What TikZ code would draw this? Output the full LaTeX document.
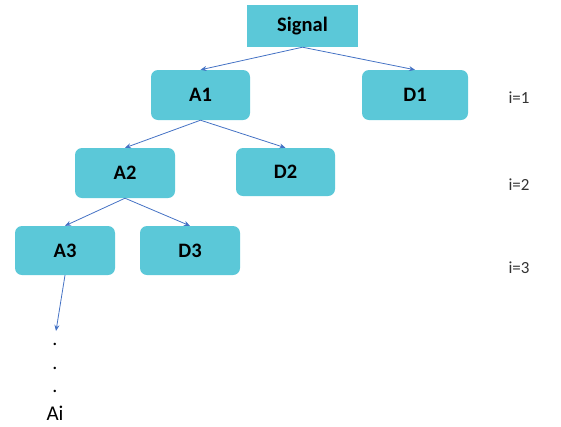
\documentclass[tikz,border=0pt]{standalone}
\usepackage{fontspec}
\setmainfont{Carlito}
\usetikzlibrary{arrows.meta}
\definecolor{boxc}{RGB}{91,200,216}
\definecolor{arrc}{RGB}{68,114,196}
\begin{document}
\begin{tikzpicture}[x=1pt,y=-1pt,
  box/.style={fill=boxc,draw=none,rounded corners=7pt,inner sep=0pt,font=\fontsize{20.5}{23}\selectfont\bfseries},
  conn/.style={draw=arrc,line width=0.8pt,-{Stealth[length=6pt,width=5pt]}},
  lvl/.style={font=\fontsize{17}{20}\selectfont,text=black!80},
  dotn/.style={font=\fontsize{20}{22}\selectfont,inner sep=0pt}]
\useasboundingbox (0,0) rectangle (561,426);
\node[box,rounded corners=0pt,minimum width=111pt,minimum height=42pt] (sig) at (302.5,26) {Signal};
\node[box,minimum width=99pt,minimum height=50pt] (a1) at (200.5,95) {A1};
\node[box,minimum width=106pt,minimum height=50pt] (d1) at (415,95) {D1};
\node[box,minimum width=100pt,minimum height=50pt] (a2) at (125,173) {A2};
\node[box,minimum width=99pt,minimum height=48pt] (d2) at (285.5,172) {D2};
\node[box,minimum width=100pt,minimum height=49pt] (a3) at (65,250.5) {A3};
\node[box,minimum width=100pt,minimum height=49pt] (d3) at (190,250.5) {D3};
\coordinate (end) at (56,331);
\draw[conn] (sig.south) -- (a1.north);
\draw[conn] (sig.south) -- (d1.north);
\draw[conn] (a1.south) -- (a2.north);
\draw[conn] (a1.south) -- (d2.north);
\draw[conn] (a2.south) -- (a3.north);
\draw[conn] (a2.south) -- (d3.north);
\draw[conn] (a3.south) -- (end);
\node[dotn] (p1) at (55,344) {.};
\node[dotn] (p2) at (55,368) {.};
\node[dotn] (p3) at (55,391) {.};
\node[font=\fontsize{21}{23}\selectfont,inner sep=0pt] (ai) at (55,413) {Ai};
\node[lvl] (l1) at (519,98) {i=1};
\node[lvl] (l2) at (519,185) {i=2};
\node[lvl] (l3) at (519,268) {i=3};
\end{tikzpicture}
\end{document}
